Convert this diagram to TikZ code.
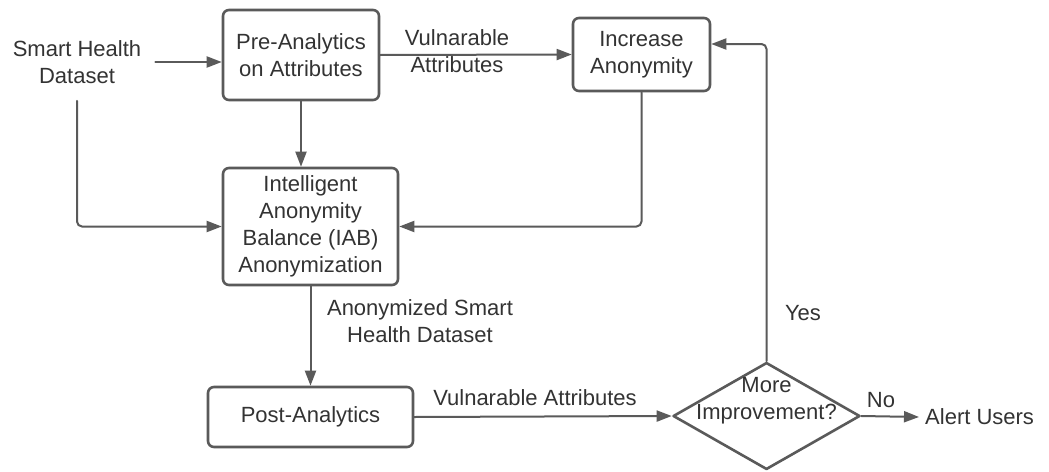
\documentclass[tikz,border=0pt]{standalone}
\usepackage{fontspec}
\setmainfont{Liberation Sans}
\usetikzlibrary{arrows.meta,positioning,shapes.geometric}
\definecolor{flowGray}{HTML}{5A5A5A}
\definecolor{flowInk}{HTML}{333333}

\begin{document}
\begin{tikzpicture}[x=1pt,y=-1pt,>={Triangle[length=15pt,width=11pt]},line cap=round,line join=round]
\useasboundingbox[fill=white] (0,0) rectangle (1049,471);
\tikzset{every node/.style={font=\fontsize{22}{27}\selectfont},box/.style={draw=flowGray,line width=2.6pt,rounded corners=6pt,align=center,text=flowInk,inner sep=0pt},link/.style={draw=flowGray,line width=2pt,->,rounded corners=5pt},lbl/.style={text=flowInk,align=center,inner sep=0pt}}
% blocks
\node[lbl] (src) at (77,62) {Smart Health\\Dataset};
\node[box,minimum width=156pt,minimum height=90pt] (pre) at (301,55) {Pre-Analytics\\on Attributes};
\node[box,minimum width=137pt,minimum height=73pt] (inc) at (641.5,54.5) {Increase\\Anonymity};
\node[box,minimum width=175pt,minimum height=117pt] (iab) at (310.5,226.5) {Intelligent\\Anonymity\\Balance (IAB)\\Anonymization};
\node[box,minimum width=205pt,minimum height=60pt] (post) at (310.5,417) {Post-Analytics};
\node[diamond,draw=flowGray,line width=2.6pt,minimum width=187pt,minimum height=107pt,inner sep=0pt] (dec) at (766.5,416) {};
\node[lbl] (decq) at (766.5,401) {More\\Improvement?};
\node[lbl,anchor=west] (alert) at (925,417) {Alert Users};
% connectors
\draw[link] ([xshift=14pt]src.east) -- (pre.west |- src.east);
\draw[link] (pre.east) -- (inc.west);
\draw[link] (pre.south) -- (pre.south |- iab.north);
\draw[link] ([yshift=-17pt]src.south) |- (iab.west);
\draw[link] (inc.south) |- (iab.east);
\draw[link] (iab.south) -- (post.north);
\draw[link] (post.east) -- (dec.west);
\draw[link] (dec.north) |- ([yshift=10.5pt]inc.east);
\draw[link] (dec.east) -- ([xshift=-6pt]alert.west);
% labels
\node[lbl] (vulTop) at (457,51.5) {Vulnarable\\Attributes};
\node[lbl] (anonData) at (420,321) {Anonymized Smart\\Health Dataset};
\node[lbl] (vulBot) at (535,398) {Vulnarable Attributes};
\node[lbl] (yes) at (803,313) {Yes};
\node[lbl] (no) at (881,400) {No};
\end{tikzpicture}
\end{document}
